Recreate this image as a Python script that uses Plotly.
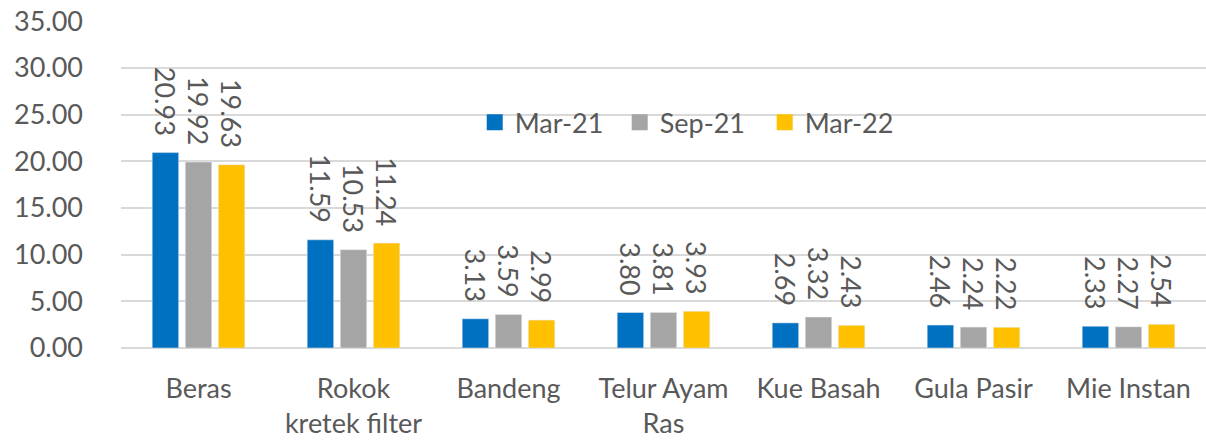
import plotly.graph_objects as go

categories = ["Beras", "Rokok<br>kretek filter", "Bandeng", "Telur Ayam<br>Ras",
              "Kue Basah", "Gula Pasir", "Mie Instan"]
series_names = ["Mar-21", "Sep-21", "Mar-22"]
mar21 = [20.93, 11.59, 3.13, 3.80, 2.69, 2.46, 2.33]
sep21 = [19.92, 10.53, 3.59, 3.81, 3.32, 2.24, 2.27]
mar22 = [19.63, 11.24, 2.99, 3.93, 2.43, 2.22, 2.54]
colors = ["#0070C0", "#A5A5A5", "#FFC000"]
y_ticks = [0, 5, 10, 15, 20, 25, 30, 35]

FONT = "Lato"
TXT = "#595959"
SIZE = 27
PAD = "\u00a0\u00a0"

fig = go.Figure()
for name, vals, col in zip(series_names, [mar21, sep21, mar22], colors):
    fig.add_trace(go.Bar(
        x=categories, y=vals, name=name, marker_color=col, showlegend=False,
        text=[f"{v:.2f}{PAD}" for v in vals], textposition="outside",
        textangle=90, constraintext="none", cliponaxis=False,
        textfont=dict(family=FONT, size=SIZE, color=TXT),
    ))
# legend entries with larger square swatches
for name, col in zip(series_names, colors):
    fig.add_trace(go.Scatter(
        x=[None], y=[None], mode="markers", name=name,
        marker=dict(symbol="square", size=17, color=col),
    ))

fig.update_layout(
    width=1206, height=444,
    margin=dict(l=121, r=0, t=21, b=96),
    paper_bgcolor="white", plot_bgcolor="white",
    barmode="group", bargap=0.36, bargroupgap=0.2,
    font=dict(family=FONT, size=SIZE, color=TXT),
    showlegend=True,
    legend=dict(orientation="h", x=0.326, y=0.689, xanchor="left", yanchor="middle",
                font=dict(family=FONT, size=SIZE, color=TXT),
                bgcolor="rgba(0,0,0,0)", entrywidth=100, itemwidth=30),
    xaxis=dict(showgrid=False, showline=False, ticks="", tickangle=0,
               ticklabelstandoff=22, automargin=False, ticklabeloverflow="allow"),
    yaxis=dict(range=[0, 35.03], tickvals=y_ticks, tickformat=".2f",
               showgrid=True, gridcolor="#D9D9D9", gridwidth=1.5,
               zeroline=True, zerolinecolor="#D9D9D9", zerolinewidth=1.5,
               showline=False, ticks="", ticklabelstandoff=37, automargin=False,
               ticklabeloverflow="allow"),
)

fig.write_html("out.html", config={"displayModeBar": False},
               post_script="document.body.style.margin='0';")
